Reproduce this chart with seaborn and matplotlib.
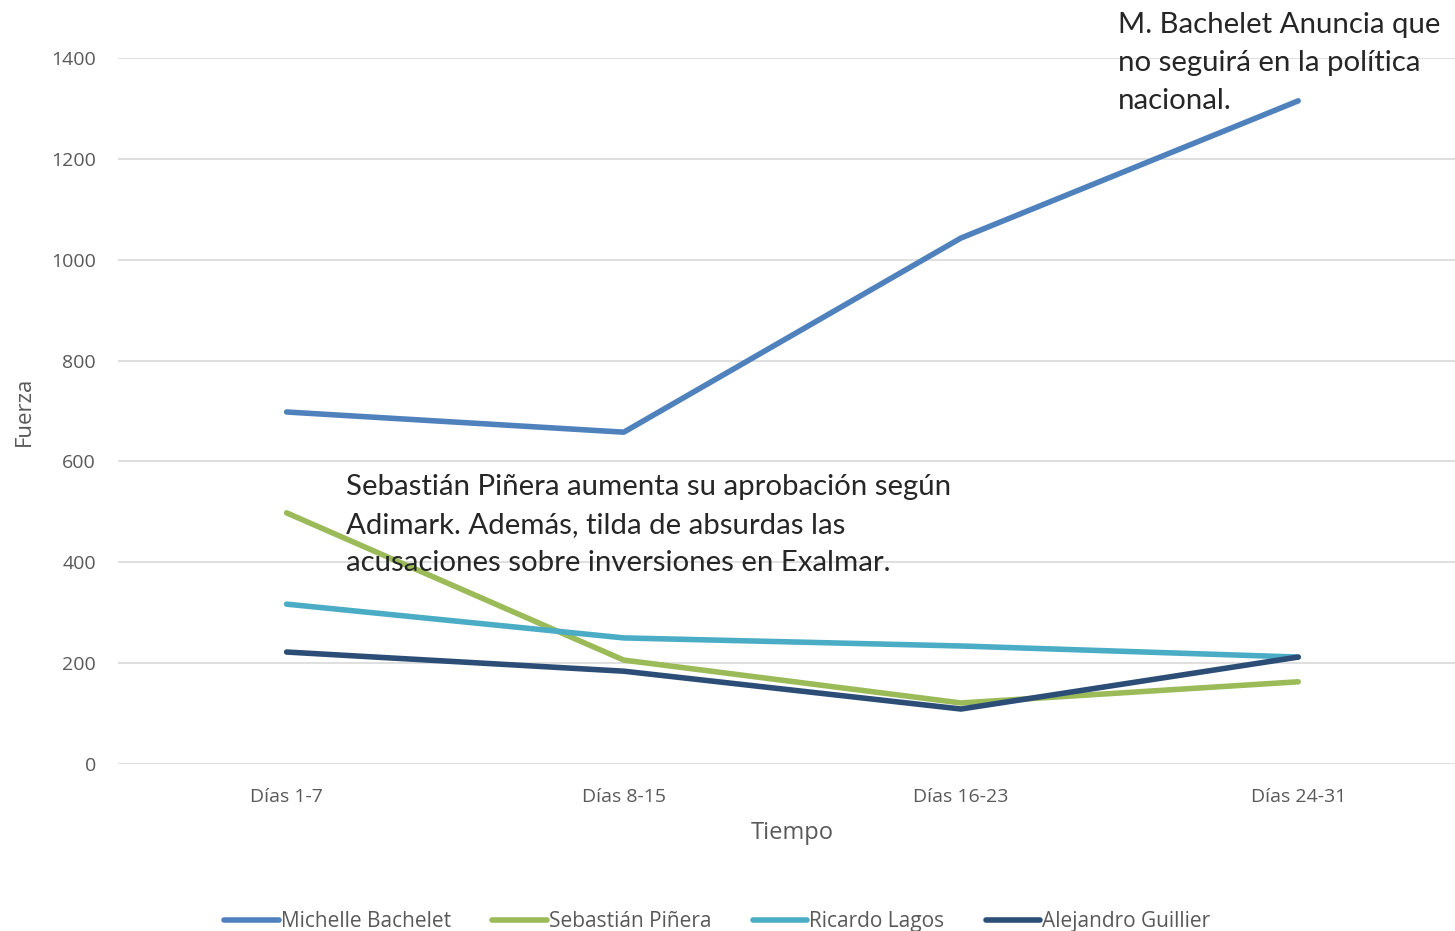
import pandas as pd
import matplotlib
matplotlib.use("Agg")
import matplotlib.pyplot as plt
import seaborn as sns

# values
periodos = ["Días 1-7", "Días 8-15", "Días 16-23", "Días 24-31"]
bachelet = [698, 658, 1043, 1315]
pinera = [498, 206, 121, 163]
lagos = [317, 250, 234, 212]
guillier = [222, 184, 109, 212]
nombres = ["Michelle Bachelet", "Sebastián Piñera", "Ricardo Lagos", "Alejandro Guillier"]
colores = ["#4F81BD", "#9BBB59", "#4BACC6", "#2C4D75"]

nota_bachelet = "M. Bachelet Anuncia que\nno seguirá en la política\nnacional."
nota_pinera = ("Sebastián Piñera aumenta su aprobación según\n"
               "Adimark. Además, tilda de absurdas las\n"
               "acusaciones sobre inversiones en Exalmar.")

rows = []
for nombre, serie in zip(nombres, [bachelet, pinera, lagos, guillier]):
    for i, (p, v) in enumerate(zip(periodos, serie)):
        rows.append({"pos": i, "Periodo": p, "Fuerza": v, "Candidato": nombre})
df = pd.DataFrame(rows)

sns.set_style("white")
plt.rcParams["font.family"] = ["Open Sans", "DejaVu Sans"]

fig = plt.figure(figsize=(14.55, 9.31), dpi=100)
ax = fig.add_axes([0.0811, 0.1794, 0.927, 0.7583])

sns.lineplot(data=df, x="pos", y="Fuerza", hue="Candidato", hue_order=nombres,
             palette=colores, linewidth=4, solid_capstyle="round", ax=ax)

ax.set_xlim(-0.5, 3.5)
ax.set_ylim(0, 1400)
ax.set_yticks(range(0, 1401, 200))
ax.set_xticks(range(len(periodos)))
ax.set_xticklabels(periodos)
ax.tick_params(axis="both", colors="#595959", labelsize=14, length=0)
ax.tick_params(axis="y", pad=16)
ax.tick_params(axis="x", pad=17)
ax.yaxis.grid(True, color="#D9D9D9", linewidth=1.2)
ax.set_axisbelow(True)
for s in ax.spines.values():
    s.set_visible(False)

ax.set_xlabel("Tiempo", fontsize=17, color="#595959", labelpad=11)
ax.set_ylabel("Fuerza", fontsize=16, color="#595959")
ax.yaxis.set_label_coords(-0.062, 0.5)

ax.text(2.466, 1492, nota_bachelet, fontsize=21.2, family=["Lato", "DejaVu Sans"],
        va="top", ha="left", linespacing=1.58, clip_on=False)
ax.text(0.175, 576, nota_pinera, fontsize=21.2, family=["Lato", "DejaVu Sans"],
        va="top", ha="left", linespacing=1.58)

handles, labels = ax.get_legend_handles_labels()
ax.legend(handles, labels, loc="lower center",
          bbox_to_anchor=(0.493, -0.021), bbox_transform=fig.transFigure,
          ncol=4, frameon=False, fontsize=15, handlelength=2.6,
          handletextpad=0.1, columnspacing=2.0, labelcolor="#595959")

fig.savefig("out.png", dpi=100)
